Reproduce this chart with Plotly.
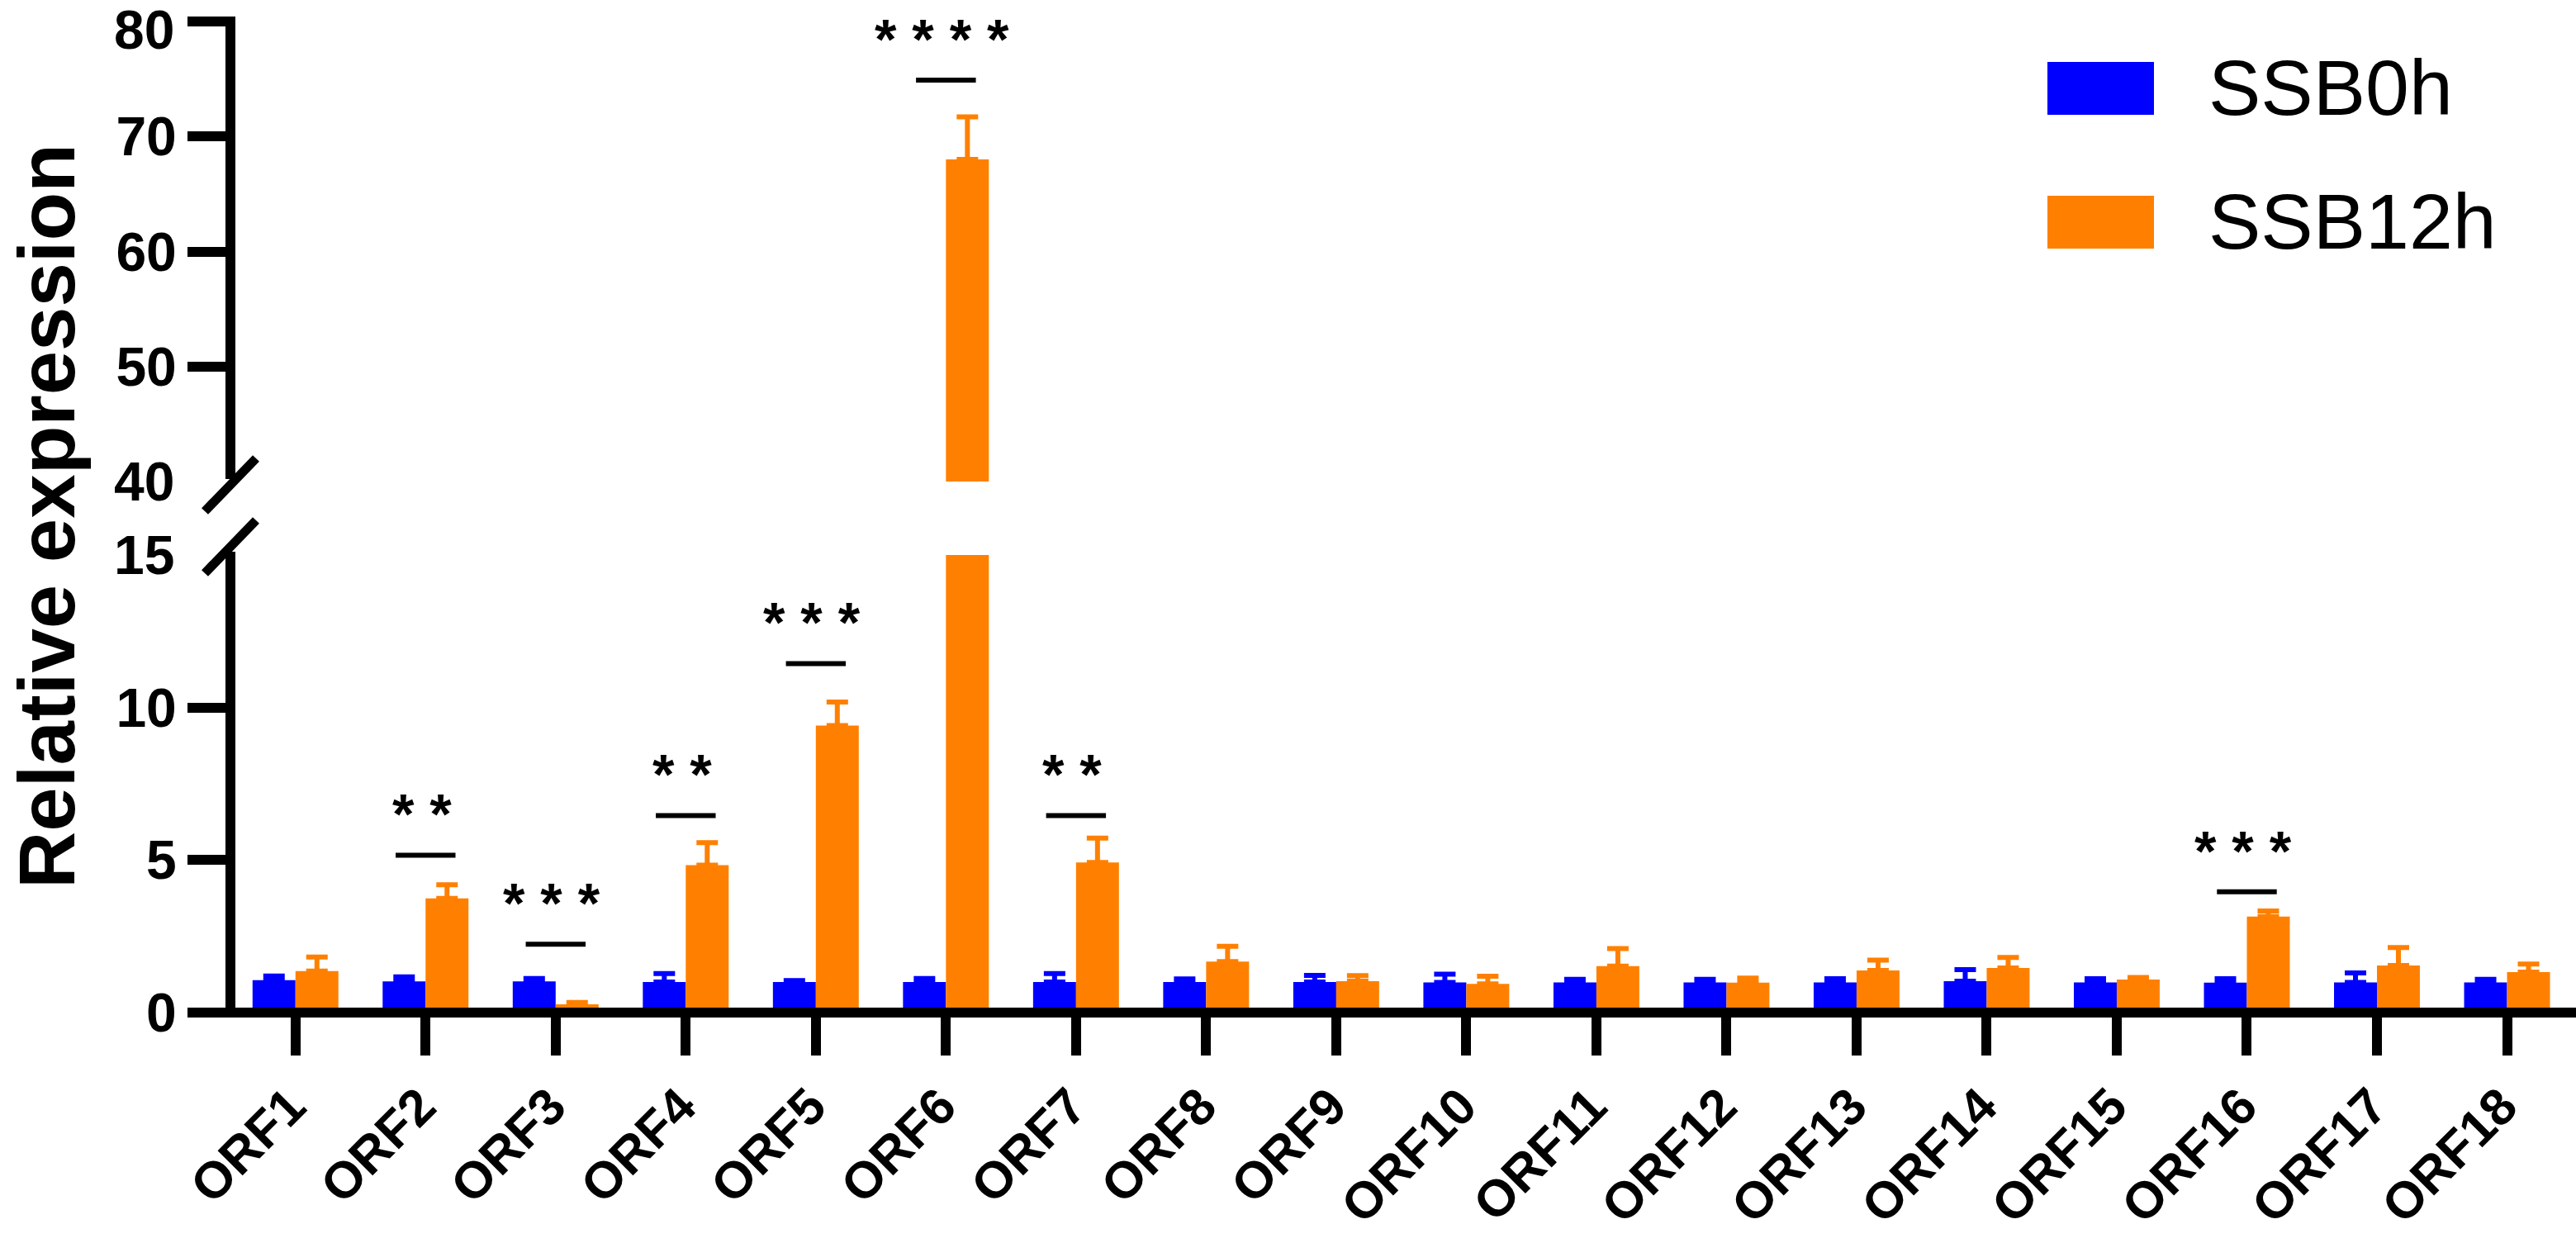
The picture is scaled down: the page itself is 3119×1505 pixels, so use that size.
import plotly.graph_objects as go

# ── Data ──────────────────────────────────────────────────────────────────────
categories = [f"ORF{i}" for i in range(1, 19)]

ssb0h = [1.06, 1.02, 1.02, 1.00, 1.00, 1.00, 1.00, 1.00, 1.00,
         0.99, 0.99, 0.99, 0.99, 1.03, 0.99, 0.98, 0.99, 0.99]
ssb0h_err = [0.14, 0.15, 0.10, 0.28, 0.05, 0.12, 0.28, 0.10, 0.22,
             0.27, 0.10, 0.10, 0.12, 0.38, 0.12, 0.13, 0.31, 0.10]

ssb12h = [1.36, 3.74, 0.27, 4.83, 9.41, 68.0, 4.92, 1.67, 1.03,
          0.94, 1.52, 0.98, 1.38, 1.46, 1.08, 3.15, 1.54, 1.33]
ssb12h_err = [0.46, 0.45, 0.06, 0.74, 0.77, 3.7, 0.80, 0.50, 0.18,
              0.25, 0.58, 0.15, 0.34, 0.35, 0.07, 0.18, 0.59, 0.26]

# significance marks: category, bar level, stars
sig_cats = ["ORF2", "ORF3", "ORF4", "ORF5", "ORF6", "ORF7", "ORF16"]
sig_levels = [5.16, 2.24, 6.46, 11.44, 74.9, 6.46, 3.96]
sig_stars = ["**", "***", "**", "***", "****", "**", "***"]

lower_range = [0, 15]
upper_range = [40, 80]
lower_ticks = [0, 5, 10]
upper_ticks = [50, 60, 70, 80]

# ── Style ─────────────────────────────────────────────────────────────────────
BLUE = "#0000FF"
ORANGE = "#FF8000"
BLACK = "#000000"
FONT = "Arial, Liberation Sans, sans-serif"

W, H = 3119, 1505
L, R, T, B = 279, 0, 26, 279
PW, PH = W - L - R, H - T - B


def px_x(p):
    return (p - L) / PW


def px_y(p):
    return (H - B - p) / PH


LOWER_DOM = [0, px_y(672)]
UPPER_DOM = [px_y(583), 1]
TICK_FONT = dict(family=FONT, size=66, color=BLACK, weight="bold")

# ── Figure ────────────────────────────────────────────────────────────────────
fig = go.Figure()

for yax in ["y", "y2"]:
    for name, vals, errs, col, grp in [
        ("SSB0h", ssb0h, ssb0h_err, BLUE, "a"),
        ("SSB12h", ssb12h, ssb12h_err, ORANGE, "b"),
    ]:
        fig.add_trace(go.Bar(
            x=categories, y=vals, name=name, yaxis=yax,
            offsetgroup=grp, marker_color=col, marker_line_width=0,
            showlegend=False,
            error_y=dict(type="data", array=errs, arrayminus=[0] * len(errs),
                         symmetric=False, color=col, thickness=6, width=13),
        ))

tick_common = dict(
    ticks="outside", ticklen=51, tickwidth=12, tickcolor=BLACK,
    showline=False, showgrid=False, zeroline=False, automargin=False,
    ticklabeloverflow="allow", tickfont=TICK_FONT,
)

# the top label sits at the page edge, it is drawn separately a bit lower
upper_text = [str(v) if v != upper_range[1] else "" for v in upper_ticks]

fig.update_layout(
    width=W, height=H,
    margin=dict(l=L, r=R, t=T, b=B, pad=0, autoexpand=False),
    paper_bgcolor="white", plot_bgcolor="white",
    barmode="group", bargap=0.34, bargroupgap=0,
    xaxis=dict(
        type="category", range=[-0.5, 17.53], anchor="y", automargin=False,
        ticks="outside", ticklen=51, tickwidth=12, tickcolor=BLACK,
        showline=False, showgrid=False, zeroline=False, tickangle=-45,
        ticklabelstandoff=0, ticklabelshift=-6, ticklabeloverflow="allow",
        tickfont=dict(family=FONT, size=62, color=BLACK, weight="bold"),
    ),
    yaxis=dict(domain=LOWER_DOM, range=lower_range, tickvals=lower_ticks,
               anchor="x", **tick_common),
    yaxis2=dict(domain=UPPER_DOM, range=upper_range, tickvals=upper_ticks,
                ticktext=upper_text, anchor="x", **tick_common),
)

# axis lines drawn on top of the bars
line = dict(color=BLACK, width=12)
fig.add_shape(type="line", xref="paper", yref="paper", x0=px_x(279), x1=1,
              y0=0, y1=0, line=line, layer="above")
fig.add_shape(type="line", xref="paper", yref="paper", x0=0, x1=0,
              y0=px_y(1232), y1=px_y(668), line=line, layer="above")
fig.add_shape(type="line", xref="paper", yref="paper", x0=0, x1=0,
              y0=px_y(580), y1=px_y(20), line=line, layer="above")
# axis break slashes
for (xa, ya), (xb, yb) in [((248, 619), (310, 555)), ((248, 694), (310, 630))]:
    fig.add_shape(type="line", xref="paper", yref="paper",
                  x0=px_x(xa), y0=px_y(ya), x1=px_x(xb), y1=px_y(yb),
                  line=dict(color=BLACK, width=11), layer="above")

# labels of the break ends (no tick mark there) and the top label
for val, yref, shift in [(upper_range[0], "y2", 0), (lower_range[1], "y", 0),
                         (upper_range[1], "y2", -10)]:
    fig.add_annotation(text=str(val), xref="paper", x=px_x(213), xanchor="right",
                       yref=yref, y=val, yanchor="middle", yshift=shift,
                       showarrow=False, font=TICK_FONT)

# significance bars and stars
for cat, lvl, stars in zip(sig_cats, sig_levels, sig_stars):
    idx = categories.index(cat)
    yref = "y2" if lvl > lower_range[1] else "y"
    fig.add_shape(type="line", xref="x", yref=yref, x0=idx - 0.23, x1=idx + 0.23,
                  y0=lvl, y1=lvl, line=dict(color=BLACK, width=6))
    fig.add_annotation(text=" ".join(stars), x=idx - 0.03, xref="x", y=lvl, yref=yref,
                       yshift=50, showarrow=False, yanchor="middle",
                       font=dict(family=FONT, size=68, color=BLACK, weight="bold"))

# y-axis title
fig.add_annotation(text="Relative expression", textangle=-90,
                   xref="paper", x=px_x(56), yref="paper", y=px_y(625),
                   xanchor="center", yanchor="middle", showarrow=False,
                   font=dict(family=FONT, size=96, color=BLACK, weight="bold"))

# legend (drawn by hand so the swatches get their large size)
for name, col, top in [("SSB0h", BLUE, 75), ("SSB12h", ORANGE, 237)]:
    fig.add_shape(type="rect", xref="paper", yref="paper",
                  x0=px_x(2479), x1=px_x(2608), y0=px_y(top), y1=px_y(top + 64),
                  fillcolor=col, line_width=0)
    fig.add_annotation(text=name, xref="paper", x=px_x(2672), xanchor="left",
                       yref="paper", y=px_y(top + 31), yanchor="middle",
                       showarrow=False,
                       font=dict(family=FONT, size=95, color=BLACK))

fig.write_html("out.html",
               config={"displayModeBar": False},
               post_script="document.body.style.margin='0';"
                           "document.body.style.overflow='hidden';")
